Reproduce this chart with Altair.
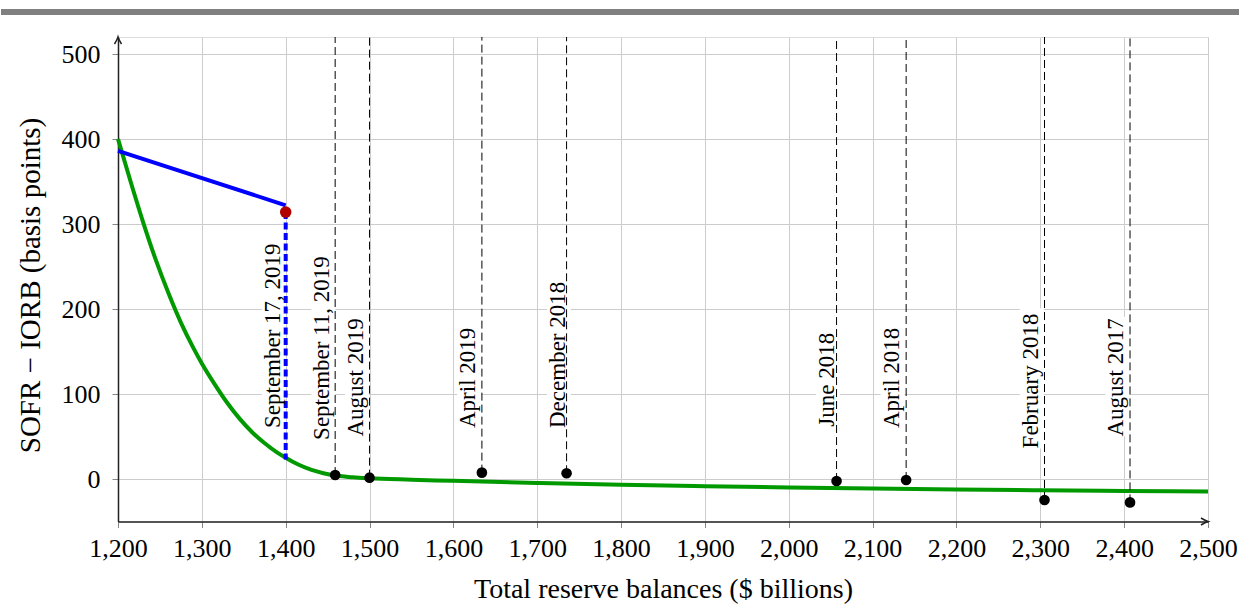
import altair as alt
import pandas as pd

# ---- data ----
# green fitted curve
curve_x = [1200, 1215, 1230, 1245, 1260, 1275, 1290, 1300, 1315, 1330, 1345, 1360,
           1375, 1390, 1400, 1415, 1430, 1445, 1460, 1480, 1500, 1550, 1600, 1700,
           1800, 1900, 2000, 2100, 2200, 2300, 2400, 2500]
curve_y = [400, 350, 302, 258, 219, 184, 154, 136, 112, 90, 71, 55,
           42, 31, 25, 17, 11, 6.8, 4, 2, 0.8, -0.8, -2.2, -4.6,
           -6.7, -8.5, -10, -11.3, -12.4, -13.3, -14.1, -14.7]

# blue segment and the September 17, 2019 spike
blue_x = [1200, 1400]
blue_y = [386, 322]
spike_x = [1400]
spike_y = [314]
spike_low = [23]

# observed points
point_names = ["September 11, 2019", "August 2019", "April 2019", "December 2018",
               "June 2018", "April 2018", "February 2018", "August 2017"]
point_x = [1459, 1500, 1634, 1735, 2057, 2140, 2305, 2407]
point_y = [4.7, 1.6, 7.5, 6.7, -2.4, -1.2, -24.7, -27.5]

# rotated labels: baseline x, start (bottom) and end (top) in data units
label_names = ["September 17, 2019"] + point_names
label_x = [1393, 1452, 1492, 1626, 1733, 2054, 2131, 2297, 2399]
label_bottom = [60, 46, 50, 60, 60, 61.5, 60, 36, 50]
label_top = [285, 272, 191, 179, 232, 175, 179, 201, 191]

x_ticks = [1200, 1300, 1400, 1500, 1600, 1700, 1800, 1900, 2000, 2100, 2200, 2300, 2400, 2500]
y_ticks = [0, 100, 200, 300, 400, 500]

# ---- tables ----
curve_df = pd.DataFrame({"x": curve_x, "y": curve_y})
blue_df = pd.DataFrame({"x": blue_x, "y": blue_y})
spike_df = pd.DataFrame({"x": spike_x, "y": spike_y, "y2": spike_low})
points_df = pd.DataFrame({"x": point_x, "y": point_y, "name": point_names})
labels_df = pd.DataFrame({"x": label_x, "y": label_bottom, "y2": label_top, "name": label_names})
one_df = pd.DataFrame({"a": [0]})
xarrow_df = pd.DataFrame({"x": [x_ticks[-1]], "y": [-50]})
yarrow_df = pd.DataFrame({"x": [x_ticks[0]], "y": [520]})

FONT = "Liberation Serif"
xscale = alt.Scale(domain=[1200, 2500], nice=False, zero=False)
yscale = alt.Scale(domain=[-50, 520], nice=False, zero=False)

xaxis = alt.Axis(values=x_ticks, format=",.0f", title="Total reserve balances ($ billions)",
                 grid=True, gridColor="#cccccc", gridWidth=1,
                 domainColor="#222222", domainWidth=1.5,
                 tickColor="#888888", tickSize=6, tickWidth=1,
                 labelFont=FONT, labelFontSize=26, labelColor="black", labelPadding=8,
                 labelFlush=False, labelOverlap=False, labelBound=False,
                 titleFont=FONT, titleFontSize=28, titleFontWeight="normal", titleColor="black",
                 titleY=76, titleBaseline="alphabetic")
yaxis = alt.Axis(values=y_ticks, format=".0f", title="SOFR − IORB (basis points)",
                 grid=True, gridColor="#cccccc", gridWidth=1,
                 domainColor="#222222", domainWidth=1.5,
                 tickColor="#888888", tickSize=6, tickWidth=1,
                 labelFont=FONT, labelFontSize=26, labelColor="black", labelPadding=12,
                 labelOverlap=False,
                 titleFont=FONT, titleFontSize=29, titleFontWeight="normal", titleColor="black",
                 titleX=-79, titleY=248, titleAngle=270, titleBaseline="alphabetic",
                 titleAlign="center")


def X(field="x"):
    return alt.X(f"{field}:Q", scale=xscale)


def Y(field="y"):
    return alt.Y(f"{field}:Q", scale=yscale)


base = alt.Chart(curve_df).mark_line(strokeWidth=0, opacity=0).encode(
    x=alt.X("x:Q", scale=xscale, axis=xaxis), y=alt.Y("y:Q", scale=yscale, axis=yaxis))

boxes = alt.Chart(labels_df).mark_rule(color="white", strokeWidth=24, xOffset=-6, strokeCap="butt").encode(
    x=X(), y=Y(), y2="y2:Q")

green = alt.Chart(curve_df).mark_line(color="#009900", strokeWidth=4, interpolate="monotone").encode(
    x=X(), y=Y())

blue = alt.Chart(blue_df).mark_line(color="#0000ff", strokeWidth=4).encode(x=X(), y=Y())

spike = alt.Chart(spike_df).mark_rule(color="#0000ff", strokeWidth=4, strokeDash=[7, 3.5]).encode(
    x=X(), y=Y(), y2="y2:Q")

dashed = alt.Chart(points_df).mark_rule(color="black", strokeWidth=1, strokeDash=[8, 4]).encode(
    x=X(), y=Y(), y2=alt.value(0))

labels = alt.Chart(labels_df).mark_text(angle=270, align="left", baseline="alphabetic",
                                        font=FONT, fontSize=23, color="black").encode(
    x=X(), y=Y(), text="name:N")

dots = alt.Chart(points_df).mark_circle(size=113, color="black", opacity=1).encode(x=X(), y=Y())

red = alt.Chart(spike_df).mark_circle(size=133, color="#b00000", opacity=1).encode(x=X(), y=Y())

arrow_path = "M -1 -0.5 Q -0.35 -0.1 0 0 Q -0.35 0.1 -1 0.5"
xarrow = alt.Chart(xarrow_df).mark_point(shape=arrow_path, filled=False, stroke="#222222",
                                         strokeWidth=1.5, size=196, opacity=1).encode(x=X(), y=Y())
yarrow = alt.Chart(yarrow_df).mark_point(shape=arrow_path, filled=False, stroke="#222222",
                                         strokeWidth=1.5, size=196, opacity=1, angle=270).encode(x=X(), y=Y())

topbar = alt.Chart(one_df).mark_rule(color="#808080", strokeWidth=6).encode(
    x=alt.value(-117), x2=alt.value(1121), y=alt.value(-25))

chart = alt.layer(base, boxes, green, blue, spike, dashed, labels, dots, red, xarrow, yarrow, topbar).properties(
    width=1090, height=484.5,
    autosize=alt.AutoSizeParams(type="none"),
    padding={"left": 118, "top": 37, "right": 32, "bottom": 83.5},
).configure_view(stroke=None).configure(background="white", font=FONT).configure_axis(
    labelFont=FONT, titleFont=FONT)

chart.save("out.html", embed_options={"renderer": "svg", "actions": False})
